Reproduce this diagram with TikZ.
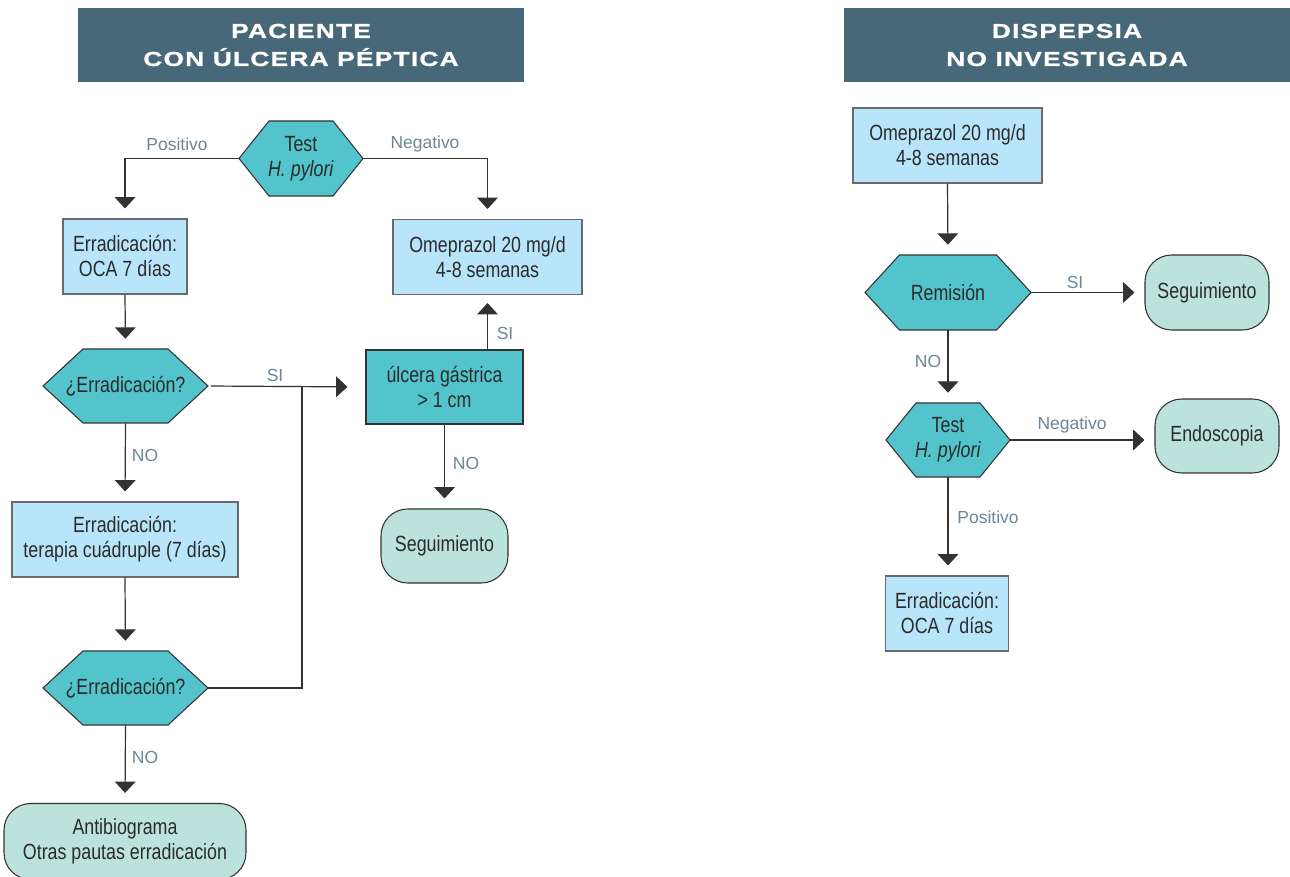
\documentclass[tikz,border=0pt]{standalone}
\usepackage{fontspec}
\setmainfont{Liberation Sans}[FakeStretch=0.81]
\newfontfamily\lblfont{Liberation Sans}
\newfontfamily\hdrfont{Liberation Sans}[FakeStretch=1.3,LetterSpace=6,FakeBold=1]
\usetikzlibrary{arrows.meta}
\definecolor{hdrc}{HTML}{476878}
\definecolor{hexteal}{HTML}{53C4CC}
\definecolor{boxblue}{HTML}{B8E5F9}
\definecolor{mintc}{HTML}{BCE3DB}
\definecolor{lblc}{HTML}{6A8797}
\definecolor{ink}{HTML}{2B2B2B}
\definecolor{lineg}{HTML}{333333}
\definecolor{bordg}{HTML}{6A6A6A}
\tikzset{
  bodyfont/.style={font=\fontsize{16.5pt}{18.75pt}\selectfont, text=ink, align=center},
  hdrbox/.style={fill=hdrc, minimum width=334.5pt, minimum height=55.5pt, inner sep=0pt,
    text=white, align=center, font=\hdrfont\bfseries\fontsize{15.2pt}{21pt}\selectfont},
  sqbox/.style={bodyfont, draw=bordg, fill=boxblue, line width=0.8pt, inner sep=0pt},
  tealbox/.style={bodyfont, draw=lineg, fill=hexteal, line width=0.8pt, inner sep=0pt},
  rbox/.style={bodyfont, draw=lineg, fill=mintc, line width=0.8pt, inner sep=0pt, rounded corners=20pt},
  hexshape/.style={draw=lineg, fill=hexteal, line width=0.8pt},
  hexnode/.style={bodyfont, inner sep=0pt},
  conn/.style={draw=lineg, line width=0.9pt},
  arr/.style={conn, -{Triangle[width=15.5pt,length=8.5pt]}, shorten >=7.5pt},
  lbl/.style={font=\lblfont\fontsize{13.1pt}{15pt}\selectfont, text=lblc, inner sep=0pt},
}
\newcommand{\hexnodecmd}[7]{%
  \path[hexshape] (#2-#4,#3) -- (#2-#4+#6,#3-#5) -- (#2+#4-#6,#3-#5) -- (#2+#4,#3)
     -- (#2+#4-#6,#3+#5) -- (#2-#4+#6,#3+#5) -- cycle;
  \node[hexnode, minimum width={2*#4*0.75pt}, minimum height={2*#5*0.75pt}] (#1) at (#2,#3) {#7};
}
\begin{document}
\begin{tikzpicture}[x=0.75pt,y=-0.75pt]
\useasboundingbox (0,0) rectangle (1290,877);
\fill[white] (0,0) rectangle (1290,877);

% headers
\node[hdrbox] (hdrL) at (301,45) {PACIENTE\\CON ÚLCERA PÉPTICA};
\node[hdrbox] (hdrR) at (1067,45) {DISPEPSIA\\NO INVESTIGADA};

% ---------- left chart ----------
\hexnodecmd{testL}{301}{158.5}{62}{37.5}{30}{Test\\\textit{H. pylori}}
\node[sqbox, minimum width=93pt, minimum height=56.25pt] (oca1) at (125,256.5) {Erradicación:\\OCA 7 días};
\node[sqbox, minimum width=141.75pt, minimum height=56.25pt] (omeL) at (487.5,257) {Omeprazol 20 mg/d\\4-8 semanas};
\hexnodecmd{err1}{125.5}{386}{82.5}{37}{40}{¿Erradicación?}
\node[tealbox, minimum width=117.75pt, minimum height=55.5pt] (ulcera) at (444.5,387) {úlcera gástrica\\> 1 cm};
\node[rbox, minimum width=95.25pt, minimum height=55.5pt] (seg1) at (444.5,546) {Seguimiento};
\node[sqbox, minimum width=169.5pt, minimum height=56.25pt] (terapia) at (125,539.5) {Erradicación:\\terapia cuádruple (7 días)};
\hexnodecmd{err2}{125.5}{688}{82.5}{37}{40}{¿Erradicación?}
\node[rbox, minimum width=181.5pt, minimum height=57pt] (anti) at (125,841.5) {Antibiograma\\Otras pautas erradicación};
\coordinate (jn) at (302,386);

\draw[arr] (testL.west) -| (oca1.north);
\draw[arr] (testL.east) -| (omeL.north);
\node[lbl] (lpos1) at (177,144) {Positivo};
\node[lbl] (lneg1) at (425,144) {Negativo};
\draw[arr] (oca1.south) -- (err1.north);
\draw[arr, shorten <=2pt, shorten >=13.5pt] (err1.east) -- (ulcera.west);
\node[lbl] (lsi1) at (275,375) {SI};
\draw[conn] (err2.east) -| (jn);
\draw[arr, shorten >=6pt] (ulcera.north -| omeL.south) -- (omeL.south);
\node[lbl] (lsi2) at (505,333) {SI};
\draw[arr] (ulcera.south) -- (seg1.north);
\node[lbl] (lno1) at (466,463) {NO};
\draw[arr] (err1.south) -- (terapia.north);
\node[lbl] (lno2) at (145,455) {NO};
\draw[arr] (terapia.south) -- (err2.north);
\draw[arr] (err2.south) -- (anti.north);
\node[lbl] (lno3) at (145,757) {NO};

% ---------- right chart ----------
\node[sqbox, minimum width=141.75pt, minimum height=56.25pt] (omeR) at (947.5,145.5) {Omeprazol 20 mg/d\\4-8 semanas};
\hexnodecmd{remi}{948}{292.5}{83}{37.5}{34.5}{Remisión}
\node[rbox, minimum width=93pt, minimum height=56.25pt] (seg2) at (1207,292.5) {Seguimiento};
\hexnodecmd{test2}{948}{440}{62}{37}{30}{Test\\\textit{H. pylori}}
\node[rbox, minimum width=93pt, minimum height=55.5pt] (endo) at (1217,436) {Endoscopia};
\node[sqbox, minimum width=92.25pt, minimum height=56.25pt] (erradR) at (947,613.5) {Erradicación:\\OCA 7 días};

\draw[arr] (omeR.south) -- (remi.north);
\draw[arr] (remi.east) -- (seg2.west);
\node[lbl] (lsi3) at (1075,282) {SI};
\draw[arr] (remi.south) -- (test2.north);
\node[lbl] (lno4) at (928,361) {NO};
\draw[arr] (test2.east) -- (test2.east -| endo.west);
\node[lbl] (lneg2) at (1072,425) {Negativo};
\draw[arr] (test2.south) -- (test2.south |- erradR.north);
\node[lbl] (lpos2) at (988,517) {Positivo};
\end{tikzpicture}
\end{document}
